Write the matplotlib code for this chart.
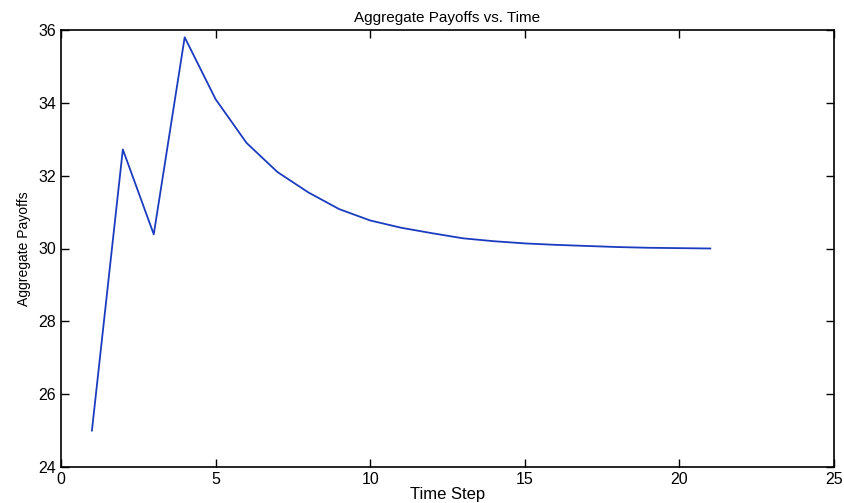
import matplotlib
matplotlib.use("Agg")
import matplotlib.pyplot as plt

plt.rcParams["font.family"] = ["Liberation Sans", "DejaVu Sans"]

# data
time_steps = list(range(1, 22))
payoffs = [25.0, 32.72, 30.39, 35.8, 34.1, 32.9, 32.1, 31.54, 31.08, 30.77,
           30.57, 30.42, 30.28, 30.20, 30.14, 30.10, 30.07, 30.04, 30.02,
           30.01, 30.0]
x_ticks = [0, 5, 10, 15, 20, 25]
y_ticks = [24, 26, 28, 30, 32, 34, 36]

fig = plt.figure(figsize=(8.44, 5.03), dpi=100)
ax = fig.add_axes([61 / 844, 36 / 503, 773 / 844, 437 / 503])

ax.plot(time_steps, payoffs, color="#1c3cc0", linewidth=1.3)

ax.set_xlim(0, 25)
ax.set_ylim(24, 36)
ax.set_xticks(x_ticks)
ax.set_yticks(y_ticks)
ax.tick_params(direction="in", top=True, right=True, length=6,
               labelsize=11.5, width=1)
for s in ax.spines.values():
    s.set_linewidth(1.2)

ax.set_title("Aggregate Payoffs vs. Time", fontsize=11, pad=6)
ax.set_xlabel("Time Step", fontsize=12, labelpad=0)
ax.set_ylabel("Aggregate Payoffs", fontsize=10, labelpad=5)

fig.savefig("out.png", dpi=100)
